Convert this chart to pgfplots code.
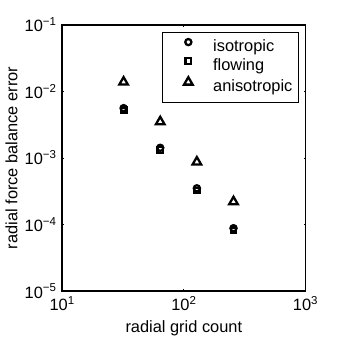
\documentclass[border=0pt]{standalone}
\usepackage{fontspec}
\setmainfont{Liberation Sans}
\usepackage{pgfplots}
\pgfplotsset{compat=1.18}

\begin{document}
\fontsize{16.5bp}{19bp}\selectfont
\begin{tikzpicture}
\begin{axis}[
  at={(0,0)}, anchor=south west,
  scale only axis,
  width=245bp, height=268bp,
  xmode=log, ymode=log,
  xmin=10, xmax=1000,
  ymin=1e-5, ymax=1e-1,
  axis line style={line width=1.6bp},
  tick style={line width=0.8bp, black},
  major tick length=2bp,
  minor tick length=0pt,
  tick align=inside,
  xtick={10,100,1000},
  xticklabels={10\textsuperscript{1},10\textsuperscript{2},10\textsuperscript{3}},
  ytick={1e-5,1e-4,1e-3,1e-2,1e-1},
  yticklabels={10\textsuperscript{−5},10\textsuperscript{−4},10\textsuperscript{−3},10\textsuperscript{−2},10\textsuperscript{−1}},
  xlabel={radial grid count},
  ylabel={radial force balance error},
  xlabel style={yshift=2bp},
  ylabel style={yshift=-4bp},
  legend style={at={(0.972,0.974)}, anchor=north east, draw=black, line width=0.6bp,
    font=\fontsize{16.5bp}{19bp}\selectfont,
    inner xsep=6bp, inner ysep=7bp, row sep=3bp, column sep=11bp,
    nodes={inner sep=0pt, text height=12bp, text depth=3.5bp},
    legend cell align=left},
  legend image code/.code={\path[draw=none] (0bp,0bp) -- (34bp,0bp);
    \draw[#1] plot coordinates {(20bp,5.5bp)};},
]
\addplot[only marks, mark=o, mark size=3.1bp, line width=2.3bp, black]
  coordinates {(32,5.6e-3) (64,1.42e-3) (128,3.5e-4) (256,8.8e-5)};
\addlegendentry{isotropic}
\addplot[only marks, mark=square, mark size=2.8bp, line width=2.3bp, black]
  coordinates {(32,5.2e-3) (64,1.32e-3) (128,3.25e-4) (256,8.2e-5)};
\addlegendentry{flowing}
\addplot[only marks, mark=triangle, mark size=5bp, line width=2.3bp, black]
  coordinates {(32,1.38e-2) (64,3.5e-3) (128,8.7e-4) (256,2.2e-4)};
\addlegendentry{anisotropic}
\end{axis}
\path (-61bp,-48bp) rectangle (278bp,293bp);
\end{tikzpicture}
\end{document}
